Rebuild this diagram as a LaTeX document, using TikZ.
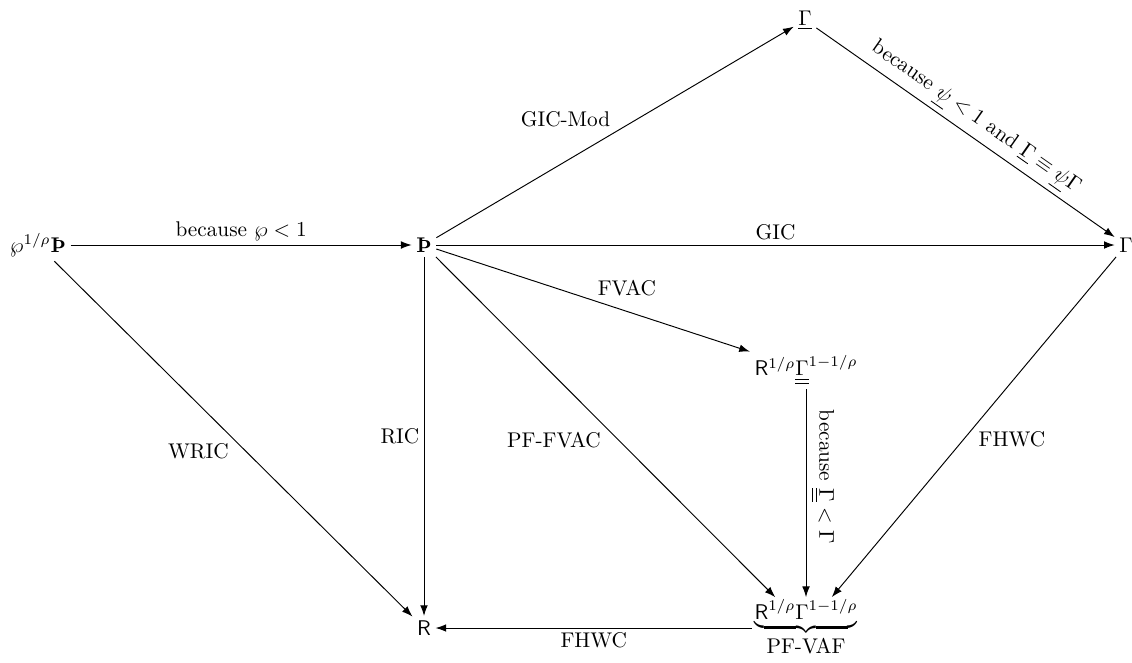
\documentclass[tikz,border=0pt]{standalone}
\usepackage{amsmath}
\usetikzlibrary{arrows.meta,positioning}
\begin{document}
\begin{tikzpicture}[x=0.47pt,y=-0.47pt,
  obj/.style={inner sep=2pt},
  arr/.style={-{Latex[length=5pt,width=3.6pt]},line width=0.45pt},
  lab/.style={inner sep=2pt}]
\useasboundingbox (0,0) rectangle (1132,662);
\node[obj] (A) at (38,245) {$\wp^{1/\rho}\text{\textbf{Þ}}$};
\node[obj] (B) at (424,245) {\textbf{Þ}};
\node[obj] (C) at (805,20) {$\underline{\Gamma}$};
\node[obj] (D) at (1126,245) {$\Gamma$};
\node[obj] (E) at (806,370) {$\mathsf{R}^{1/\rho}\underline{\underline{\Gamma}}^{1-1/\rho}$};
\node[obj,inner sep=1pt] (F) at (806,628) {$\underbrace{\mathsf{R}^{1/\rho}\Gamma^{1-1/\rho}}_{\mbox{PF-VAF}}$};
\node[obj] (G) at (424,628) {$\mathsf{R}$};

\draw[arr] (A) -- node[midway,above,lab] {because $\wp<1$} (B);
\draw[arr] (A) -- node[midway,anchor=north east,lab] {WRIC} (G);
\draw[arr] (B) -- node[midway,anchor=south east,lab] {GIC-Mod} (C);
\draw[arr] (C) -- node[sloped,above,lab] {because $\underline{\psi}<1$ and $\underline{\Gamma}\equiv\underline{\psi}\Gamma$} (D);
\draw[arr] (B) -- node[midway,above,lab] {GIC} (D);
\draw[arr] (B) -- node[midway,anchor=south west,lab] {FVAC} (E);
\draw[arr] (B) -- node[midway,left,lab] {RIC} (G);
\draw[arr] (B) -- node[midway,anchor=north east,lab] {PF-FVAC} (F);
\draw[arr] (E) -- node[sloped,above,lab,pos=0.42] {because $\underline{\underline{\Gamma}}<\Gamma$} (F);
\draw[arr] (D) -- node[midway,anchor=north west,lab] {FHWC} (F);
\draw[arr] (F) -- node[midway,below,lab] {FHWC} (G);
\end{tikzpicture}
\end{document}
